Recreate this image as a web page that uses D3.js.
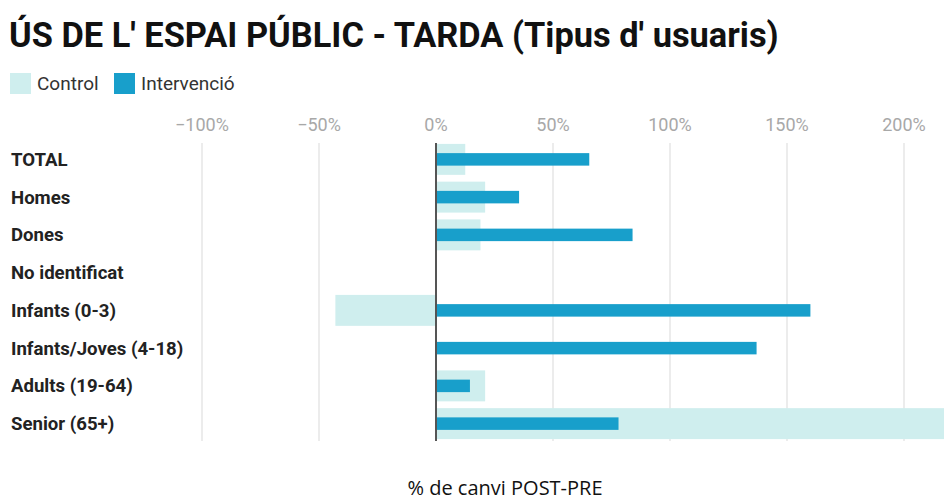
<!DOCTYPE html>
<html>
<head>
<meta charset="utf-8">
<script src="https://cdn.jsdelivr.net/npm/d3@7"></script>
<style>
  body { margin: 0; background: #fff; }
  svg { display: block; }
</style>
</head>
<body>
<svg id="chart" width="944" height="502"></svg>
<script>
var categories = ["TOTAL", "Homes", "Dones", "No identificat", "Infants (0-3)",
                  "Infants/Joves (4-18)", "Adults (19-64)", "Senior (65+)"];
var controlValues = [12.5, 21, 19, 0, -43, 0, 21, 250];
var intervencioValues = [65.5, 35.5, 84, 0, 160, 137, 14.5, 78];
var tickValues = [-100, -50, 0, 50, 100, 150, 200];
var seriesNames = ["Control", "Intervenció"];

var w = 944, h = 502;
var controlColor = "#cfeeee";
var intervColor = "#189fcb";
var gridColor = "#e6e6e6";

var svg = d3.select("#chart");

var x = d3.scaleLinear().domain([-100, 200]).range([202, 904]);
var y = d3.scaleBand().domain(categories).range([140.5, 442.5]).padding(0);

// title
svg.append("text")
    .attr("x", 9).attr("y", 47)
    .style("font-family", "Roboto")
    .style("font-weight", "bold")
    .style("font-size", "34.4px")
    .style("fill", "#111")
    .text("ÚS DE L' ESPAI PÚBLIC - TARDA (Tipus d' usuaris)");

// legend
var legend = svg.append("g");
var legendX = [10, 114];
seriesNames.forEach(function(name, i) {
    legend.append("rect")
        .attr("x", legendX[i]).attr("y", 73)
        .attr("width", 21).attr("height", 21)
        .attr("fill", i == 0 ? controlColor : intervColor);
    legend.append("text")
        .attr("x", legendX[i] + 27).attr("y", 90)
        .style("font-family", "Roboto")
        .style("font-size", "19px")
        .style("fill", "#333")
        .text(name);
});

// grid + tick labels
var grid = svg.append("g");
grid.selectAll("line.grid")
    .data(tickValues.filter(function(d) { return d != 0; }))
    .enter().append("line")
    .attr("class", "grid")
    .attr("x1", function(d) { return x(d); })
    .attr("x2", function(d) { return x(d); })
    .attr("y1", 143).attr("y2", 441)
    .attr("stroke", gridColor)
    .attr("stroke-width", 1.5);

grid.selectAll("text.tick")
    .data(tickValues)
    .enter().append("text")
    .attr("class", "tick")
    .attr("x", function(d) { return x(d); })
    .attr("y", 131)
    .attr("text-anchor", "middle")
    .style("font-family", "Roboto")
    .style("font-size", "18px")
    .style("fill", "#a8a8a8")
    .text(function(d) { return (d < 0 ? "\u2212" + Math.abs(d) : d) + "%"; });

// control bars (wide, light)
var cH = y.bandwidth() * 0.82;
svg.append("g").selectAll("rect")
    .data(categories)
    .enter().append("rect")
    .attr("x", function(d, i) { return x(Math.min(0, controlValues[i])); })
    .attr("width", function(d, i) { return Math.abs(x(controlValues[i]) - x(0)); })
    .attr("y", function(d) { return y(d) + (y.bandwidth() - cH) / 2; })
    .attr("height", cH)
    .attr("fill", controlColor);

// intervention bars (narrow, dark)
var iH = 12.5;
svg.append("g").selectAll("rect")
    .data(categories)
    .enter().append("rect")
    .attr("x", function(d, i) { return x(Math.min(0, intervencioValues[i])); })
    .attr("width", function(d, i) { return Math.abs(x(intervencioValues[i]) - x(0)); })
    .attr("y", function(d) { return y(d) + (y.bandwidth() - iH) / 2; })
    .attr("height", iH)
    .attr("fill", intervColor);

// zero line
svg.append("line")
    .attr("x1", x(0)).attr("x2", x(0))
    .attr("y1", 143).attr("y2", 441)
    .attr("stroke", "#555")
    .attr("stroke-width", 2);

// row labels
svg.append("g").selectAll("text")
    .data(categories)
    .enter().append("text")
    .attr("x", 11)
    .attr("y", function(d) { return y(d) + y.bandwidth() / 2 + 6.5; })
    .style("font-family", "Roboto")
    .style("font-weight", "bold")
    .style("font-size", "18.6px")
    .style("fill", "#222")
    .text(function(d) { return d; });

// x axis title
svg.append("text")
    .attr("x", 505).attr("y", 495)
    .attr("text-anchor", "middle")
    .style("font-family", "Open Sans")
    .style("font-size", "20px")
    .style("fill", "#111")
    .text("% de canvi POST-PRE");
</script>
</body>
</html>
